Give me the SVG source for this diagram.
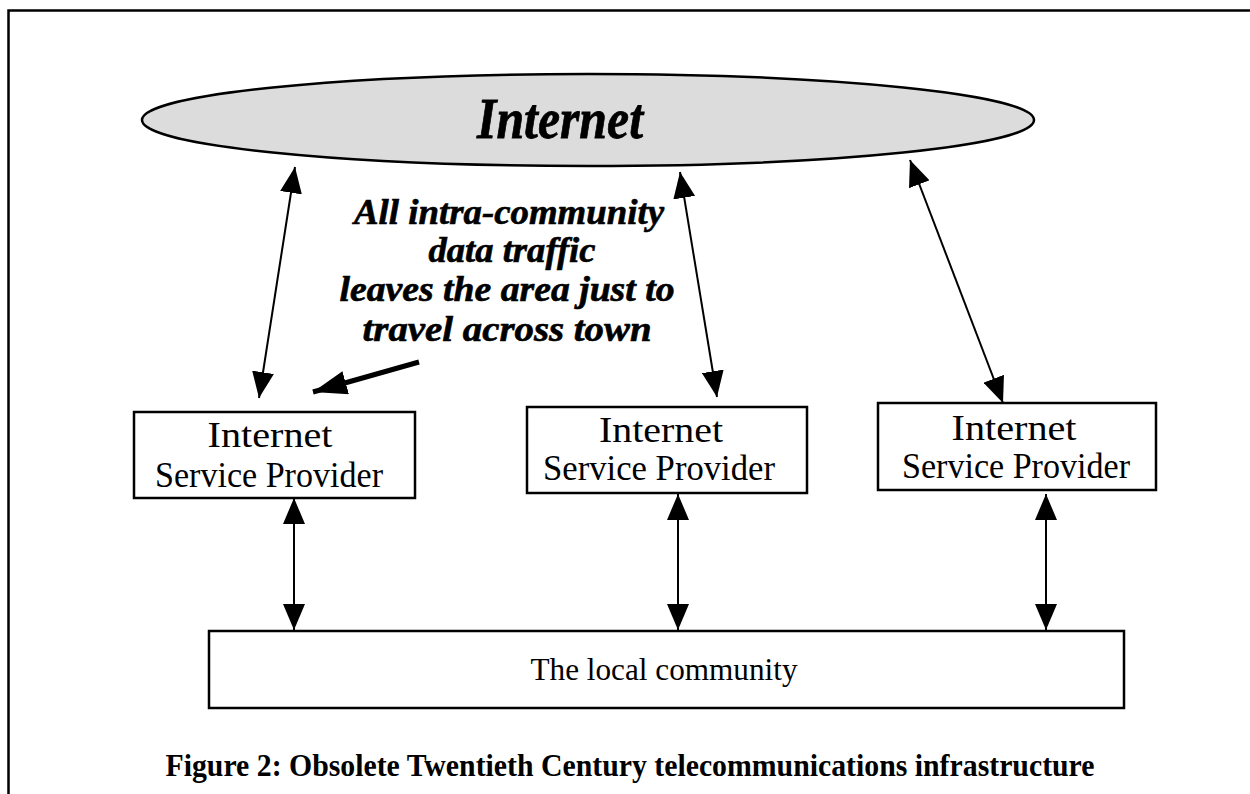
<svg xmlns="http://www.w3.org/2000/svg" width="1250" height="794" viewBox="0 0 1250 794">
<style>
.box{fill:#fff;stroke:#000;stroke-width:2.5}
.conn{stroke:#000;stroke-width:2;fill:none}
.isp{font-family:"Liberation Serif",serif;font-size:36px;text-anchor:middle;fill:#000}
.ann{font-family:"Liberation Serif",serif;font-size:35px;font-weight:bold;font-style:italic;text-anchor:middle;fill:#000;stroke:#000;stroke-width:0.6}
</style>
<defs>
<marker id="ah" viewBox="0 0 26 22" refX="26" refY="11" markerWidth="26" markerHeight="22" markerUnits="userSpaceOnUse" orient="auto-start-reverse">
<path d="M0,0 L26,11 L0,22 Z" fill="#000"/>
</marker>
<marker id="ahb" viewBox="0 0 34 24" refX="34" refY="12" markerWidth="34" markerHeight="24" markerUnits="userSpaceOnUse" orient="auto">
<path d="M0,0 L34,12 L0,24 Z" fill="#000"/>
</marker>
</defs>
<rect width="1250" height="794" fill="#fff"/>
<path d="M8.5,794 V10.5 H1250" fill="none" stroke="#000" stroke-width="2.5"/>

<g id="internet">
<ellipse cx="588" cy="120" rx="446" ry="46" fill="#dcdcdc" stroke="#000" stroke-width="2.5"/>
<text x="560" y="138" font-family="Liberation Serif,serif" font-size="58" font-weight="bold" font-style="italic" text-anchor="middle" textLength="166" lengthAdjust="spacingAndGlyphs" stroke="#000" stroke-width="0.8">Internet</text>
</g>

<g id="note">
<text class="ann" x="509" y="224" textLength="310" lengthAdjust="spacingAndGlyphs">All intra-community</text>
<text class="ann" x="512" y="262" textLength="167" lengthAdjust="spacingAndGlyphs">data traffic</text>
<text class="ann" x="507" y="301" textLength="335" lengthAdjust="spacingAndGlyphs">leaves the area just to</text>
<text class="ann" x="507" y="341" textLength="289" lengthAdjust="spacingAndGlyphs">travel across town</text>
</g>

<g id="isp1">
<rect class="box" x="134" y="412" width="281" height="86"/>
<text class="isp" x="270" y="447" textLength="125" lengthAdjust="spacingAndGlyphs">Internet</text>
<text class="isp" x="269" y="487" textLength="228" lengthAdjust="spacingAndGlyphs">Service Provider</text>
</g>
<g id="isp2">
<rect class="box" x="527" y="407" width="280" height="86"/>
<text class="isp" x="661" y="442" textLength="124" lengthAdjust="spacingAndGlyphs">Internet</text>
<text class="isp" x="659" y="480" textLength="232" lengthAdjust="spacingAndGlyphs">Service Provider</text>
</g>
<g id="isp3">
<rect class="box" x="878" y="403" width="278" height="87"/>
<text class="isp" x="1014" y="440" textLength="125" lengthAdjust="spacingAndGlyphs">Internet</text>
<text class="isp" x="1016" y="478" textLength="228" lengthAdjust="spacingAndGlyphs">Service Provider</text>
</g>

<g id="community">
<rect class="box" x="209" y="631" width="915" height="77"/>
<text x="664" y="680" font-family="Liberation Serif,serif" font-size="32" text-anchor="middle" textLength="267" lengthAdjust="spacingAndGlyphs">The local community</text>
</g>

<g id="connectors">
<line class="conn" x1="295" y1="167" x2="259" y2="398" marker-start="url(#ah)" marker-end="url(#ah)"/>
<line class="conn" x1="680" y1="172" x2="717" y2="397" marker-start="url(#ah)" marker-end="url(#ah)"/>
<line class="conn" x1="910" y1="160" x2="1003" y2="403" marker-start="url(#ah)" marker-end="url(#ah)"/>
<line class="conn" x1="294" y1="498" x2="294" y2="630" marker-start="url(#ah)" marker-end="url(#ah)"/>
<line class="conn" x1="678" y1="494" x2="678" y2="630" marker-start="url(#ah)" marker-end="url(#ah)"/>
<line class="conn" x1="1046" y1="494" x2="1046" y2="630" marker-start="url(#ah)" marker-end="url(#ah)"/>
<line x1="419" y1="362" x2="313" y2="392" stroke="#000" stroke-width="5" marker-end="url(#ahb)"/>
</g>

<text x="630" y="776" font-family="Liberation Serif,serif" font-size="32" font-weight="bold" text-anchor="middle" textLength="929" lengthAdjust="spacingAndGlyphs">Figure 2: Obsolete Twentieth Century telecommunications infrastructure</text>
</svg>
